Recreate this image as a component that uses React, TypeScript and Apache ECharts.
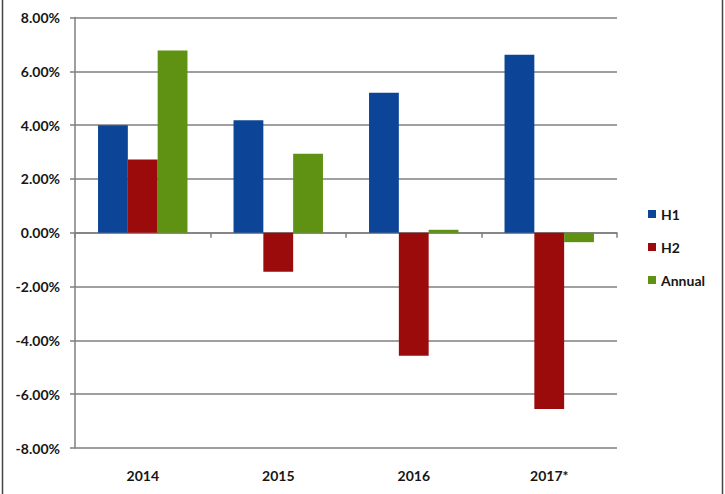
import React, { useEffect, useRef } from "react";
import * as echarts from "echarts";

const categories = ["2014", "2015", "2016", "2017*"];
const seriesNames = ["H1", "H2", "Annual"];
const h1Values = [4.0, 4.18, 5.2, 6.62];
const h2Values = [2.72, -1.45, -4.57, -6.55];
const annualValues = [6.77, 2.94, 0.11, -0.35];
const colors = ["#0c4597", "#9c0b0b", "#5f9112"];
const yMin = -8;
const yMax = 8;
const yInterval = 2;

export default function App() {
  const ref = useRef<HTMLDivElement>(null);
  useEffect(() => {
    document.body.style.margin = "0";
    if (!ref.current) return;
    const chart = echarts.init(ref.current, null, { renderer: "svg" });
    const font = "Lato, 'Open Sans', sans-serif";
    const labelStyle = { fontFamily: font, fontWeight: "bold" as const, fontSize: 14, color: "#161616" };
    const values = [h1Values, h2Values, annualValues];
    chart.setOption({
      animation: false,
      backgroundColor: "#ffffff",
      grid: { left: 75, top: 17.5, right: 108, bottom: 46, containLabel: false },
      legend: {
        orient: "vertical",
        left: 643,
        top: 202,
        itemWidth: 8,
        itemHeight: 8,
        itemGap: 19,
        icon: "rect",
        textStyle: { ...labelStyle, fontSize: 14 },
        data: seriesNames,
      },
      xAxis: [
        {
          type: "category",
          data: categories,
          position: "bottom",
          axisLine: { show: false, onZero: false },
          axisTick: { show: false },
          axisLabel: { ...labelStyle, margin: 20 },
        },
        {
          type: "category",
          data: categories,
          position: "top",
          axisLine: { show: true, onZero: true, lineStyle: { color: "#7f7f7f", width: 1.5 } },
          axisTick: { show: true, inside: true, length: 5, lineStyle: { color: "#7f7f7f", width: 1.5 } },
          axisLabel: { show: false },
        },
      ],
      yAxis: {
        type: "value",
        min: yMin,
        max: yMax,
        interval: yInterval,
        axisLine: { show: true, lineStyle: { color: "#7f7f7f", width: 1.5 } },
        axisTick: { show: true, length: 5, lineStyle: { color: "#7f7f7f", width: 1.5 } },
        splitLine: { show: true, lineStyle: { color: "#7f7f7f", width: 1.5 } },
        axisLabel: {
          ...labelStyle,
          margin: 15,
          formatter: (v: number) => v.toFixed(2) + "%",
        },
      },
      series: seriesNames.map((name, i) => ({
        name,
        type: "bar",
        xAxisIndex: 0,
        data: values[i],
        barGap: "0%",
        barCategoryGap: "34%",
        itemStyle: { color: colors[i] },
      })),
      graphic: [
        { type: "line", shape: { x1: 2.5, y1: 0, x2: 2.5, y2: 494 }, style: { stroke: "#444", lineWidth: 1.5 } },
        { type: "line", shape: { x1: 722.5, y1: 0, x2: 722.5, y2: 494 }, style: { stroke: "#444", lineWidth: 1.5 } },
      ],
    });
    return () => chart.dispose();
  }, []);
  return <div ref={ref} style={{ width: 725, height: 494 }} />;
}
